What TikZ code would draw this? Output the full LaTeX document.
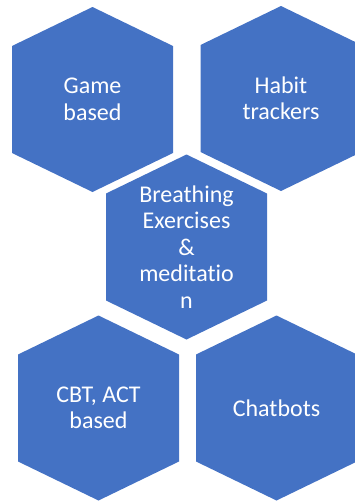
\documentclass[tikz,border=0pt]{standalone}
\usepackage{fontspec}
\setmainfont[Ligatures=NoCommon]{Carlito}
\definecolor{hexblue}{HTML}{4472C4}
\begin{document}
\begin{tikzpicture}[
  x=1pt, y=-1pt,
  hex/.style={fill=hexblue, draw=none},
  lbl/.style={text=white, align=center, inner sep=0pt, font=\fontsize{24}{26.5}\selectfont}
]
  \useasboundingbox (0,0) rectangle (355,501);
  \clip (0,0) rectangle (355,501);
  % Hexagons
  \foreach \name/\cx/\cy in {game/92.5/99.5, habit/281/98.5, breath/186.5/247, cbt/98.5/408, chat/276.5/408} {
    \fill[hex] (\cx,{\cy-92.5}) -- ++(80.5,39) -- ++(0,107) -- ++(-80.5,39)
      -- ++(-80.5,-39) -- ++(0,-107) -- cycle;
    \coordinate (\name) at (\cx,\cy);
  }
  % Labels
  \node[lbl] (gameT) at (game) {Game\\based};
  \node[lbl] (habitT) at (habit) {Habit\\trackers};
  \node[lbl] (breathT) at (breath) {Breathing\\Exercises\\\&\\meditatio\\n};
  \node[lbl] (cbtT) at (cbt) {CBT, ACT\\based};
  \node[lbl] (chatT) at (chat) {Chatbots};
\end{tikzpicture}
\end{document}
